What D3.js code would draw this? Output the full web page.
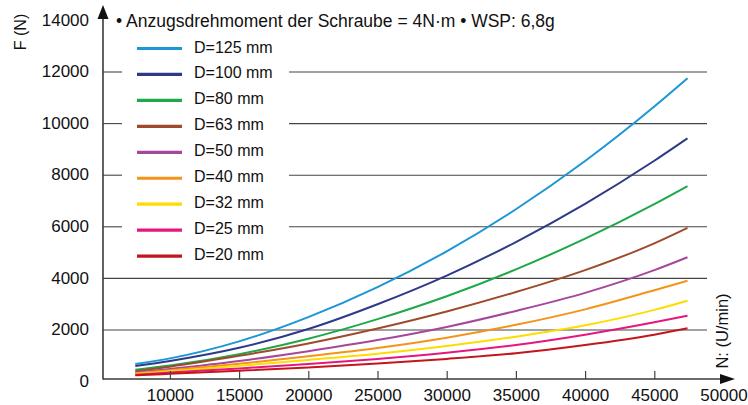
<!DOCTYPE html>
<html>
<head>
<meta charset="utf-8">
<script src="https://cdn.jsdelivr.net/npm/d3@7"></script>
<style>
  html, body { margin: 0; padding: 0; background: #fff; }
  svg { display: block; }
</style>
</head>
<body>
<svg id="chart" width="748" height="405"></svg>
<script>
// ---- data ----
const speeds = [7500, 10000, 15000, 20000, 25000, 30000, 35000, 40000, 45000, 47400];
const seriesNames = ["D=125 mm", "D=100 mm", "D=80 mm", "D=63 mm", "D=50 mm", "D=40 mm", "D=32 mm", "D=25 mm", "D=20 mm"];
const seriesColors = ["#1b96d6", "#2e3a88", "#1ea84a", "#9f4b2b", "#a5479d", "#f39419", "#ffdc00", "#e5177e", "#c3161c"];
const f125 = [682, 900, 1560, 2500, 3660, 5050, 6680, 8550, 10660, 11756];
const f100 = [605, 800, 1310, 2040, 3000, 4110, 5410, 6890, 8560, 9430];
const f80  = [460, 620, 1060, 1660, 2420, 3310, 4350, 5540, 6880, 7580];
const f63  = [405, 580, 1000, 1480, 2060, 2720, 3470, 4320, 5360, 5960];
const f50  = [350, 490, 800, 1180, 1610, 2120, 2740, 3440, 4320, 4820];
const f40  = [322, 440, 690, 980, 1300, 1700, 2200, 2800, 3540, 3910];
const f32  = [295, 400, 610, 840, 1080, 1380, 1740, 2180, 2780, 3136];
const f25  = [267, 350, 510, 680, 880, 1120, 1420, 1820, 2300, 2555];
const f20  = [244, 300, 420, 550, 700, 880, 1100, 1420, 1820, 2066];
const seriesValues = [f125, f100, f80, f63, f50, f40, f32, f25, f20];
const xTickValues = [10000, 15000, 20000, 25000, 30000, 35000, 40000, 45000, 50000];
const yTickValues = [0, 2000, 4000, 6000, 8000, 10000, 12000, 14000];
const gridValues = [2000, 4000, 6000, 8000, 10000, 12000];
const titleText = "\u2022 Anzugsdrehmoment der Schraube = 4N\u00b7m \u2022 WSP: 6,8g";
const yLabel = "F (N)";
const xLabel = "N: (U/min)";

// ---- layout ----
const svg = d3.select("#chart");
const x = d3.scaleLinear().domain([5000, 50000]).range([100.7, 723.5]);
const y = d3.scaleLinear().domain([0, 14000]).range([381.6, 20.4]);
const axisX = 103, axisY = 379, gridEnd = 707;
const legendGap = [122, 289];
const axisColor = "#3a3a3a";
const regFont = "'Liberation Sans', Arial, sans-serif";
const narrowFont = "'Liberation Sans Narrow', 'Arial Narrow', 'Liberation Sans', sans-serif";

// gridlines
const grid = svg.append("g");
gridValues.forEach(v => {
  const yy = y(v);
  const segs = v >= 6000 ? [[axisX, legendGap[0]], [legendGap[1], gridEnd]] : [[axisX, gridEnd]];
  segs.forEach(s => {
    grid.append("line").attr("x1", s[0]).attr("x2", s[1]).attr("y1", yy).attr("y2", yy)
      .attr("stroke", "#444").attr("stroke-width", 1.1);
  });
});

// curves
const line = d3.line()
  .x((d, i) => x(speeds[i]))
  .y(d => y(d))
  .curve(d3.curveMonotoneX);
svg.append("g").selectAll("path").data(seriesValues).join("path")
  .attr("d", d => line(d))
  .attr("fill", "none")
  .attr("stroke", (d, i) => seriesColors[i])
  .attr("stroke-width", 2);

// x axis
const xAxis = d3.axisBottom(x).tickValues(xTickValues).tickFormat(d3.format("d"))
  .tickSizeInner(-8).tickSizeOuter(0).tickPadding(10);
const gx = svg.append("g").attr("transform", `translate(0,${axisY})`).call(xAxis);
gx.select(".domain").remove();
gx.selectAll(".tick line").attr("stroke", "#444").attr("stroke-width", 1.2)
  .filter(d => d >= 50000).remove();
gx.selectAll(".tick text").attr("font-family", regFont).attr("font-size", 17).attr("fill", "#111");

// y axis labels
const yAxis = d3.axisLeft(y).tickValues(yTickValues).tickFormat(d3.format("d"))
  .tickSize(0).tickPadding(14);
const gy = svg.append("g").attr("transform", `translate(${axisX},0)`).call(yAxis);
gy.select(".domain").remove();
gy.selectAll(".tick line").remove();
gy.selectAll(".tick text").attr("font-family", regFont).attr("font-size", 17).attr("fill", "#111")
  .attr("dy", "0.28em");

// axis lines with arrows
svg.append("line").attr("x1", axisX).attr("x2", axisX).attr("y1", axisY + 0.5).attr("y2", 16)
  .attr("stroke", axisColor).attr("stroke-width", 1.6);
svg.append("path").attr("d", `M${axisX},5 L${axisX - 5.5},19 L${axisX + 5.5},19 Z`).attr("fill", "#111");
svg.append("line").attr("x1", axisX).attr("x2", 724).attr("y1", axisY).attr("y2", axisY)
  .attr("stroke", axisColor).attr("stroke-width", 1.6);
svg.append("path").attr("d", `M735,${axisY} L720,${axisY - 5} L720,${axisY + 5} Z`).attr("fill", "#111");

// legend
const lg = svg.append("g");
seriesNames.forEach((name, i) => {
  const ry = 48.5 + 25.95 * i;
  lg.append("line").attr("x1", 137).attr("x2", 182).attr("y1", ry).attr("y2", ry)
    .attr("stroke", seriesColors[i]).attr("stroke-width", 3.2);
  lg.append("text").attr("x", 194).attr("y", ry + 4).text(name)
    .attr("font-family", regFont).attr("font-size", 16).attr("fill", "#111");
});

// title and axis labels
svg.append("text").attr("x", 116).attr("y", 27).text(titleText)
  .attr("font-family", narrowFont).attr("font-size", 17.5).attr("fill", "#111");
svg.append("text").attr("transform", "translate(26,32) rotate(-90)")
  .attr("text-anchor", "middle").text(yLabel)
  .attr("font-family", regFont).attr("font-size", 16).attr("fill", "#111");
svg.append("text").attr("transform", "translate(728,331) rotate(-90)")
  .attr("text-anchor", "middle").text(xLabel)
  .attr("font-family", narrowFont).attr("font-size", 16.5).attr("fill", "#111");
</script>
</body>
</html>
